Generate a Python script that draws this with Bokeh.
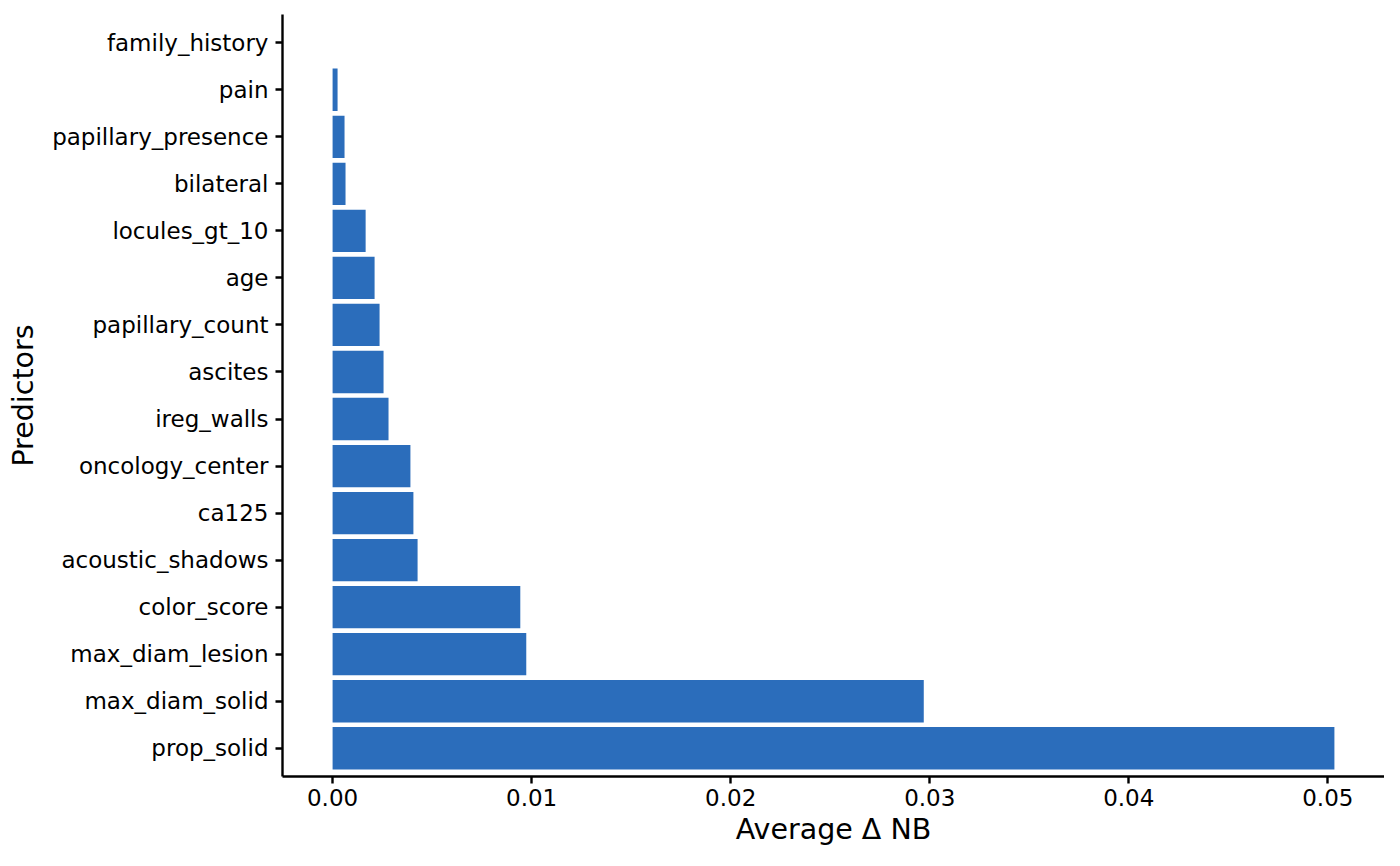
from bokeh.plotting import figure
from bokeh.models import FactorRange, Range1d, FixedTicker, PrintfTickFormatter, ColumnDataSource
from bokeh.embed import file_html
from bokeh.resources import INLINE

# Data (bottom to top)
predictors = ["prop_solid", "max_diam_solid", "max_diam_lesion", "color_score",
              "acoustic_shadows", "ca125", "oncology_center", "ireg_walls",
              "ascites", "papillary_count", "age", "locules_gt_10",
              "bilateral", "papillary_presence", "pain", "family_history"]
avg_delta_nb = [0.05033, 0.02970, 0.00973, 0.00943,
                0.00427, 0.00406, 0.00391, 0.00281,
                0.00256, 0.00236, 0.00211, 0.00166,
                0.00065, 0.00060, 0.00025, 0.0]
x_ticks = [0.0, 0.01, 0.02, 0.03, 0.04, 0.05]

BAR = "#2B6DBB"
FONT = "DejaVu Sans"

src = ColumnDataSource(dict(pred=predictors, val=avg_delta_nb))

xmax = max(avg_delta_nb)
pad = xmax * 0.05

p = figure(width=1384, height=850, output_backend="svg", toolbar_location=None,
           y_range=FactorRange(factors=predictors, range_padding=0.1,
                               range_padding_units="absolute", factor_padding=0.0),
           x_range=Range1d(-pad, xmax + pad),
           min_border_left=282, min_border_right=0, min_border_top=14, min_border_bottom=74)

p.hbar(y="pred", right="val", left=0, height=0.9, source=src,
       fill_color=BAR, line_color=None)

p.outline_line_color = None
p.xgrid.visible = False
p.ygrid.visible = False
p.background_fill_color = "white"
p.border_fill_color = "white"

p.xaxis.ticker = FixedTicker(ticks=x_ticks)
p.xaxis.formatter = PrintfTickFormatter(format="%.2f")
p.xaxis.axis_label = "Average \u0394 NB"
p.yaxis.axis_label = "Predictors"

for ax in (p.xaxis[0], p.yaxis[0]):
    ax.axis_line_color = "black"
    ax.axis_line_width = 2.4
    ax.major_tick_line_color = "black"
    ax.major_tick_line_width = 2.4
    ax.major_tick_out = 7
    ax.major_tick_in = 0
    ax.minor_tick_line_color = None
    ax.major_label_text_font = FONT
    ax.major_label_text_font_size = "23px"
    ax.major_label_text_color = "black"
    ax.axis_label_text_font = FONT
    ax.axis_label_text_font_size = "28.5px"
    ax.axis_label_text_font_style = "normal"
    ax.axis_label_text_color = "black"

p.xaxis.major_label_standoff = 5
p.xaxis.axis_label_standoff = 4
p.yaxis.major_label_standoff = 7
p.yaxis.axis_label_standoff = 9

open("out.html", "w").write(file_html(p, INLINE))
